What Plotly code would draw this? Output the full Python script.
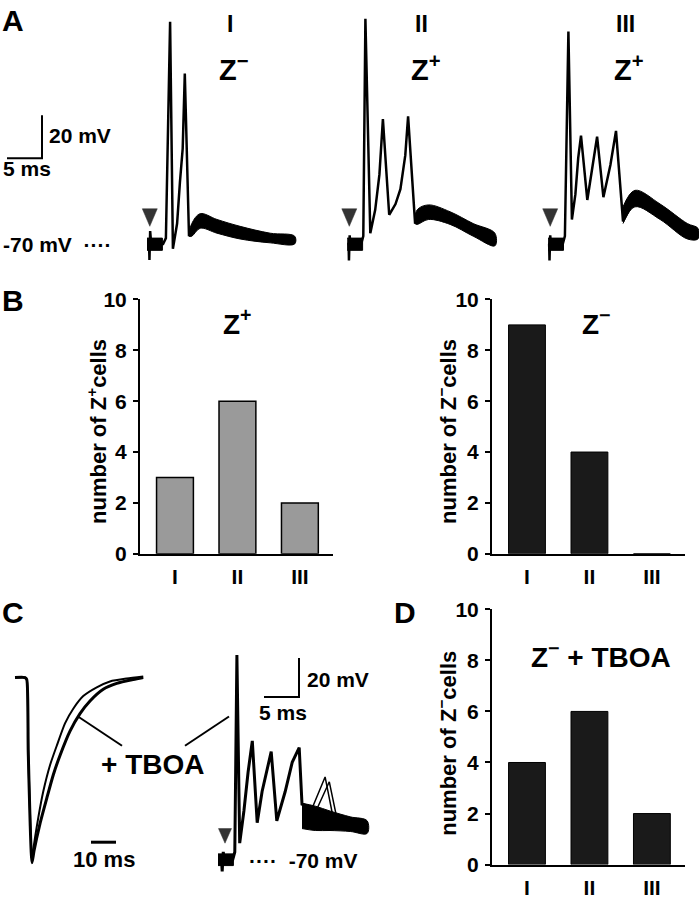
import plotly.graph_objects as go

W, H = 699, 899
FONT = "Liberation Sans, Arial, Helvetica, sans-serif"

# ---------------- data ----------------
categories = ["I", "II", "III"]
zplus_counts = [3, 6, 2]
zminus_counts = [9, 4, 0]
zminus_tboa_counts = [4, 6, 2]
y_ticks = [0, 2, 4, 6, 8, 10]

# Panel A: three representative sweeps (local time in ms, potential in mV)
a_sweep_start_ms = [21.0, 49.6, 78.3]
a_stim_ms = [0.4, 0.3, 0.3]

a1_t = [0, 0.3, 0.35, 0.45, 0.6, 2.3, 2.7, 3.3, 3.7, 4.3, 4.7, 5.1, 5.4, 6.0, 6.4, 7.6, 10.0, 13.3, 17.6, 21.1]
a1_v = [-70, -70, -77.5, -64, -70, -70, -67.3, 33.6, -72.3, -60.5, -41.4, -25.5, 9.5, -66.4, -62.7, -59.1, -61.8, -65, -67.3, -68.2]
a1_band_t = [6.0, 6.4, 7.6, 10.0, 13.3, 17.6, 21.1]
a1_band_hi = [-66.4, -60.5, -55.9, -58.6, -61.8, -65, -66.4]
a1_band_lo = [-66.4, -66.4, -62.7, -65, -67.7, -69.5, -70]

a2_t = [0, 0.2, 0.25, 0.35, 0.5, 2.0, 2.3, 2.6, 3.3, 4.0, 4.6, 5.1, 6.0, 6.9, 7.6, 8.3, 8.7, 9.7, 10.0, 11.6, 14.7, 18.0, 21.1]
a2_v = [-70, -70, -77.7, -66, -70.9, -70, -66.4, 35, -65, -54.1, -37.7, -11.8, -56.4, -51.4, -44.5, -28.6, -10.5, -60.5, -57.7, -55.5, -58.2, -63.6, -68.2]
a2_band_t = [9.7, 10.0, 11.6, 14.7, 18.0, 21.1]
a2_band_hi = [-60.5, -54.1, -51.8, -55, -60.5, -65]
a2_band_lo = [-60.5, -60.9, -58.6, -60.9, -66.4, -70.9]

a3_t = [0, 0.15, 0.2, 0.3, 0.45, 2.1, 2.4, 2.9, 3.4, 3.9, 4.3, 4.7, 5.6, 6.3, 7.0, 7.9, 8.9, 9.7, 10.7, 12.4, 16.0, 19.9, 21.4]
a3_v = [-70, -70, -77.7, -66, -70.9, -70, -66.4, 29.1, -58.6, -46.8, -30, -19.5, -49.5, -34.5, -20, -48.2, -33.2, -17.3, -59.5, -49.1, -55, -64.1, -65.5]
a3_band_t = [10.7, 12.4, 16.0, 19.9, 21.4]
a3_band_hi = [-52.7, -45, -51.4, -60.5, -62.7]
a3_band_lo = [-60.5, -52.7, -58.6, -67.7, -67.7]

baseline_band_t = [0, 2.2]
baseline_band_hi = [-67.3, -67.3]
baseline_band_lo = [-73, -73]

# Panel C left: synaptic currents (ms, pA, arbitrary scale)
cl_ctrl_t = [0, 4, 4.7, 5.3, 6.8, 7.3, 9.3, 11.3, 14, 16.7, 20, 23.3, 27.3, 32.7, 38, 44.7, 51.3]
cl_ctrl_i = [0, 0, -2, -77, -190, -177, -144, -117, -90, -70, -47, -32, -19, -10, -4, -1, 1]
cl_tboa_t = [0, 4, 4.7, 5.3, 6.8, 7.6, 10, 12.7, 15.3, 18, 22, 26, 30, 35.3, 40.7, 47.3, 51.3]
cl_tboa_i = [0, 0, -2, -77, -190, -178, -150, -124, -100, -80, -55, -37, -24, -12, -6, -2, 0]

# Panel C right: sweep in TBOA (ms, mV)
cr_t = [0, 0.5, 0.6, 0.75, 0.9, 2.1, 2.4, 2.7, 3.1, 3.7, 4.3, 4.9, 5.6, 6.3, 7.6, 8.4, 9.6, 10.6, 11.6, 12.0, 13.9, 16.0, 18.9, 21.3]
cr_v = [-70, -70, -76, -66, -70, -70, -66, 35, -61.5, -45, -25, -9, -51, -35, -14.5, -50, -35, -20, -12.5, -41.5, -44, -47.5, -51, -54]
cr_band_t = [12.0, 13.9, 16.0, 18.9, 21.3]
cr_band_hi = [-41, -42.5, -45, -48, -50]
cr_band_lo = [-54, -55, -55, -55.5, -56.5]
cr_late1_t = [13.4, 15.3, 16.4]
cr_late1_v = [-44, -27.5, -47.5]
cr_late2_t = [14.0, 15.9, 17.0]
cr_late2_v = [-45, -30, -49]
c_stim_ms = 1.0

# ---------------- figure ----------------
fig = go.Figure()
BLACK = "black"

def line(x, y, xa, ya, width=2.5, shape="linear", smooth=None):
    d = dict(color=BLACK, width=width, shape=shape)
    if smooth is not None:
        d["smoothing"] = smooth
    fig.add_trace(go.Scatter(x=x, y=y, xaxis=xa, yaxis=ya, mode="lines", line=d, hoverinfo="skip"))

def band(t, hi, lo, xa, ya, shape="linear"):
    fig.add_trace(go.Scatter(x=list(t) + list(t)[::-1], y=list(hi) + list(lo)[::-1], xaxis=xa, yaxis=ya,
                             mode="lines", fill="toself", fillcolor=BLACK,
                             line=dict(color=BLACK, width=1, shape=shape), hoverinfo="skip"))

# Panel A traces
sweeps = [(a1_t, a1_v, a1_band_t, a1_band_hi, a1_band_lo),
          (a2_t, a2_v, a2_band_t, a2_band_hi, a2_band_lo),
          (a3_t, a3_v, a3_band_t, a3_band_hi, a3_band_lo)]
for off, (t, v, bt, bh, bl) in zip(a_sweep_start_ms, sweeps):
    band([off + s for s in baseline_band_t], baseline_band_hi, baseline_band_lo, "x", "y")
    band([off + s for s in bt], bh, bl, "x", "y", shape="spline")
    line([off + s for s in t], v, "x", "y")

# Panel B bars
fig.add_trace(go.Bar(x=categories, y=zplus_counts, xaxis="x2", yaxis="y2", width=0.59,
                     marker=dict(color="#9a9a9a", line=dict(color=BLACK, width=1.5)), hoverinfo="skip"))
fig.add_trace(go.Bar(x=categories, y=zminus_counts, xaxis="x3", yaxis="y3", width=0.59,
                     marker=dict(color="#1a1a1a", line=dict(color=BLACK, width=1)), hoverinfo="skip"))

# Panel C left currents
line(cl_ctrl_t, cl_ctrl_i, "x4", "y4", width=2, shape="spline", smooth=0.6)
line(cl_tboa_t, cl_tboa_i, "x4", "y4", width=3, shape="spline", smooth=0.6)

# Panel C right
band(baseline_band_t, [-67, -67], [-73, -73], "x5", "y5")
band(cr_band_t, cr_band_hi, cr_band_lo, "x5", "y5", shape="spline")
line(cr_t, cr_v, "x5", "y5", width=3)
line(cr_late1_t, cr_late1_v, "x5", "y5", width=1.5)
line(cr_late2_t, cr_late2_v, "x5", "y5", width=1.5)

# Panel D bars
fig.add_trace(go.Bar(x=categories, y=zminus_tboa_counts, xaxis="x6", yaxis="y6", width=0.59,
                     marker=dict(color="#1a1a1a", line=dict(color=BLACK, width=1)), hoverinfo="skip"))

# ---------------- layout ----------------
def px(x):
    return x / W

def py(y):
    return 1 - y / H

hidden = dict(visible=False, showgrid=False, zeroline=False, fixedrange=True)
tickfont = dict(family=FONT, size=21, color=BLACK, weight="bold")
bar_x = dict(type="category", range=[-0.56, 2.53], showline=True, linewidth=2, linecolor=BLACK,
             ticks="", showgrid=False, zeroline=False, tickfont=tickfont, ticklabelstandoff=3, fixedrange=True)
bar_y = dict(range=[0, 10], tickvals=y_ticks, showline=True, linewidth=2, linecolor=BLACK,
             ticks="outside", ticklen=5, tickwidth=2, tickcolor=BLACK, showgrid=False, zeroline=False,
             tickfont=tickfont, ticklabelstandoff=2, fixedrange=True)

fig.update_layout(
    width=W, height=H, margin=dict(l=0, r=0, t=0, b=0),
    paper_bgcolor="white", plot_bgcolor="rgba(0,0,0,0)", showlegend=False,
    font=dict(family=FONT, color=BLACK),
    xaxis=dict(domain=[0, 1], range=[0, W / 7], anchor="y", **hidden),
    yaxis=dict(domain=[py(260), 1], range=[-80, -70 + 238 / 2.2], anchor="x", **hidden),
    xaxis2=dict(domain=[px(140), px(333)], anchor="y2", **bar_x),
    yaxis2=dict(domain=[py(556), py(295)], anchor="x2", **bar_y),
    xaxis3=dict(domain=[px(492), px(685)], anchor="y3", **bar_x),
    yaxis3=dict(domain=[py(556), py(295)], anchor="x3", **bar_y),
    xaxis4=dict(domain=[0, px(200)], range=[-6, 74], anchor="y4", **hidden),
    yaxis4=dict(domain=[0, py(660)], range=[-216, 23], anchor="x4", **hidden),
    xaxis5=dict(domain=[px(200), px(380)], range=[-18 / 7, 162 / 7], anchor="y5", **hidden),
    yaxis5=dict(domain=[0, py(640)], range=[-84.5, 45], anchor="x5", **hidden),
    xaxis6=dict(domain=[px(492), px(685)], anchor="y6", **bar_x),
    yaxis6=dict(domain=[py(875), py(613)], anchor="x6", **bar_y),
)

def ann(text, x, y, size, xanchor="center", yanchor="middle", angle=0):
    return dict(text=text, x=px(x), y=py(y), xref="paper", yref="paper", xanchor=xanchor, yanchor=yanchor,
                showarrow=False, textangle=angle,
                font=dict(family=FONT, size=size, color=BLACK, weight="bold"))

annotations = [
    ann("A", 0, 9, 30, xanchor="left"),
    ann("B", 0, 296, 30, xanchor="left"),
    ann("C", 0, 616, 30, xanchor="left"),
    ann("D", 392, 616, 30, xanchor="left"),
    ann("I", 230, 12, 23), ann("II", 422, 12, 23), ann("III", 625, 12, 23),
    ann("Z<sup>−</sup>", 234, 57, 29), ann("Z<sup>+</sup>", 426, 57, 29), ann("Z<sup>+</sup>", 629, 57, 29),
    ann("20 mV", 47, 127, 21, xanchor="left"),
    ann("5 ms", 1, 161, 21, xanchor="left"),
    ann("-70 mV  ····", 1, 239, 21, xanchor="left"),
    ann("Z<sup>+</sup>", 238, 318, 28), ann("Z<sup>−</sup>", 596, 318, 28),
    ann("number of Z<sup>+</sup>cells", 97, 431, 22, angle=-90),
    ann("number of Z<sup>−</sup>cells", 447, 431, 22, angle=-90),
    ann("number of Z<sup>−</sup>cells", 447, 751, 22, angle=-90),
    ann("+ TBOA", 152, 772, 28),
    ann("10 ms", 104, 870, 22),
    ann("20 mV", 305, 685, 21, xanchor="left"),
    ann("5 ms", 283, 719, 21),
    ann("····  -70 mV", 247, 871, 21, xanchor="left"),
    ann("Z<sup>−</sup> + TBOA", 601, 660, 28),
]

shapes = []
# scale bars (data units)
shapes.append(dict(type="path", xref="x", yref="y", path="M 1,-30 L 6,-30 L 6,-10",
                   line=dict(color=BLACK, width=2)))
shapes.append(dict(type="path", xref="x5", yref="y5", path="M 6.57,13.5 L 11.57,13.5 L 11.57,33.5",
                   line=dict(color=BLACK, width=2)))
shapes.append(dict(type="line", xref="x4", yref="y4", x0=30.4, x1=40.4, y0=-169, y1=-169,
                   line=dict(color=BLACK, width=3)))
# stimulus arrowheads
for off, st in zip(a_sweep_start_ms, a_stim_ms):
    t = off + st
    shapes.append(dict(type="path", xref="x", yref="y",
                       path=f"M {t-1.07},-53.6 L {t+1.07},-53.6 L {t},-61.8 Z",
                       fillcolor="#333333", line=dict(color="#333333", width=0.5)))
shapes.append(dict(type="path", xref="x5", yref="y5",
                   path=f"M {c_stim_ms-0.93},-54 L {c_stim_ms+0.93},-54 L {c_stim_ms},-61.5 Z",
                   fillcolor="#333333", line=dict(color="#333333", width=0.5)))
# connector lines from "+ TBOA"
for (x0, y0, x1, y1) in [(78, 723, 122, 753), (185, 753, 229, 723)]:
    shapes.append(dict(type="line", xref="paper", yref="paper", x0=px(x0), y0=py(y0), x1=px(x1), y1=py(y1),
                       line=dict(color=BLACK, width=2)))

fig.update_layout(annotations=annotations, shapes=shapes)
fig.write_html("out.html", config={"displayModeBar": False},
               post_script="document.body.style.margin='0';document.body.style.overflow='hidden';")
